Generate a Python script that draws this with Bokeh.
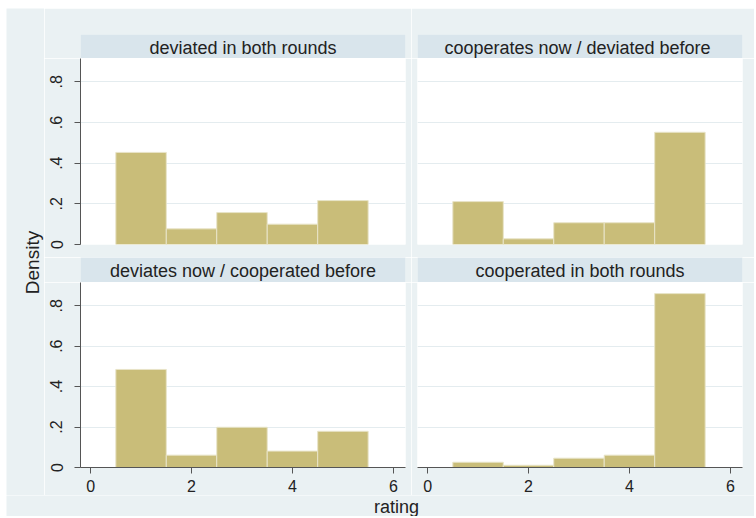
import math
from bokeh.plotting import figure
from bokeh.layouts import row, column, Spacer
from bokeh.models import Range1d, Label, FixedTicker, Grid
from bokeh.embed import file_html
from bokeh.resources import INLINE

# ---------------- data ----------------
rating_bins = [1, 2, 3, 4, 5]
panel_titles = [
    "deviated in both rounds",
    "cooperates now  / deviated before",
    "deviates now / cooperated before",
    "cooperated in both rounds",
]
density_deviated_both = [0.453, 0.077, 0.157, 0.100, 0.216]
density_coop_now_dev_before = [0.211, 0.028, 0.107, 0.107, 0.552]
density_dev_now_coop_before = [0.485, 0.061, 0.199, 0.081, 0.179]
density_cooperated_both = [0.026, 0.011, 0.046, 0.061, 0.860]

y_tick_values = [0, 0.2, 0.4, 0.6, 0.8]
y_tick_labels = ["0", ".2", ".4", ".6", ".8"]
x_tick_values = [0, 2, 4, 6]
x_tick_labels = ["0", "2", "4", "6"]
y_axis_title = "Density"
x_axis_title = "rating"

# ---------------- style ----------------
BG = "#eaf1f3"
STRIP = "#d9e5ec"
BAR = "#c9bd79"
GRIDC = "#e4ecef"
AXC = "#555555"
TXT = "#222222"
FONT = "Liberation Sans"

FW = 325          # frame width of each panel
LB = 36           # left border (room for y tick labels)
GAP = 6           # half gap between panels
RB = 12           # right border of right panels


def base_fig(**kw):
    p = figure(toolbar_location=None, output_backend="svg", title=None, **kw)
    p.border_fill_color = BG
    p.outline_line_color = None
    return p


def deco_fig(w, h):
    p = base_fig(width=w, height=h, frame_width=w, frame_height=h,
                 x_range=Range1d(0, w), y_range=Range1d(0, h),
                 x_axis_location=None, y_axis_location=None, min_border=0)
    p.background_fill_color = BG
    p.xgrid.visible = False
    p.ygrid.visible = False
    return p


def strip_fig(text, left, top_border, fh):
    p = base_fig(frame_width=FW, frame_height=fh,
                 x_range=Range1d(0, 1), y_range=Range1d(0, 1),
                 x_axis_location=None, y_axis_location=None,
                 min_border_left=LB if left else GAP,
                 min_border_right=GAP if left else RB,
                 min_border_top=top_border, min_border_bottom=0)
    p.background_fill_color = STRIP
    p.xgrid.visible = False
    p.ygrid.visible = False
    p.add_layout(Label(x=0.5, y=0.45, text=text, text_align="center",
                       text_baseline="middle", text_font=FONT,
                       text_font_size="18px", text_color=TXT))
    return p


def panel_fig(dens, left, bottom, fh, bottom_border):
    p = base_fig(frame_width=FW, frame_height=fh,
                 x_range=Range1d(-0.2, 6.24), y_range=Range1d(0, 0.915),
                 x_axis_location="below" if bottom else None,
                 y_axis_location="left" if left else None,
                 min_border_left=LB if left else GAP,
                 min_border_right=GAP if left else RB,
                 min_border_top=0, min_border_bottom=bottom_border)
    p.background_fill_color = "white"
    p.center = [r for r in p.center if not isinstance(r, Grid)]
    p.add_layout(Grid(dimension=1, ticker=FixedTicker(ticks=y_tick_values[1:]),
                      grid_line_color=GRIDC, grid_line_width=1), "center")
    p.vbar(x=rating_bins, width=1, bottom=0, top=dens, fill_color=BAR,
           line_color="#e8e4c8", line_width=1)
    axes = []
    if left:
        ax = p.yaxis[0]
        ax.ticker = FixedTicker(ticks=y_tick_values)
        ax.major_label_overrides = dict(zip(y_tick_values, y_tick_labels))
        ax.major_label_orientation = "vertical"
        ax.major_label_standoff = 12
        axes.append(ax)
    if bottom:
        ax = p.xaxis[0]
        ax.ticker = FixedTicker(ticks=x_tick_values)
        ax.major_label_overrides = dict(zip(x_tick_values, x_tick_labels))
        ax.major_label_standoff = 6
        axes.append(ax)
    for ax in axes:
        ax.axis_line_color = AXC
        ax.axis_line_width = 1
        ax.major_tick_line_color = AXC
        ax.major_tick_out = 6
        ax.major_tick_in = 0
        ax.minor_tick_line_color = None
        ax.major_label_text_font = FONT
        ax.major_label_text_font_size = "16px"
        ax.major_label_text_color = TXT
    return p


tl_s = strip_fig(panel_titles[0], True, 26, 24)
tr_s = strip_fig(panel_titles[1], False, 26, 24)
tl = panel_fig(density_deviated_both, True, False, 186, 13)
tr = panel_fig(density_coop_now_dev_before, False, False, 186, 13)
bl_s = strip_fig(panel_titles[2], True, 0, 25)
br_s = strip_fig(panel_titles[3], False, 0, 25)
bl = panel_fig(density_dev_now_coop_before, True, True, 185, 28)
br = panel_fig(density_cooperated_both, False, True, 185, 28)

grid_h = 50 + 199 + 25 + 213          # 487
DW = 38                               # width of the "Density" column
dens = deco_fig(DW, grid_h)
dens.add_layout(Label(x=26, y=grid_h - 254, text=y_axis_title, angle=math.pi / 2,
                      text_align="center", text_baseline="middle", text_font=FONT,
                      text_font_size="19px", text_color=TXT))

main_w = DW + (LB + FW + GAP) + (GAP + FW + RB)   # 748
rat_h = 508 - grid_h                               # 21
rat = deco_fig(main_w, rat_h)
rat.add_layout(Label(x=390, y=0, text=x_axis_title, text_align="center",
                     text_baseline="bottom", text_font=FONT,
                     text_font_size="18px", text_color=TXT))

grid = column(row(tl_s, tr_s), row(tl, tr), row(bl_s, br_s), row(bl, br))
main = column(row(dens, grid), rat)
layout = column(Spacer(height=8), row(Spacer(width=6), main))

open("out.html", "w").write(file_html(layout, INLINE))
